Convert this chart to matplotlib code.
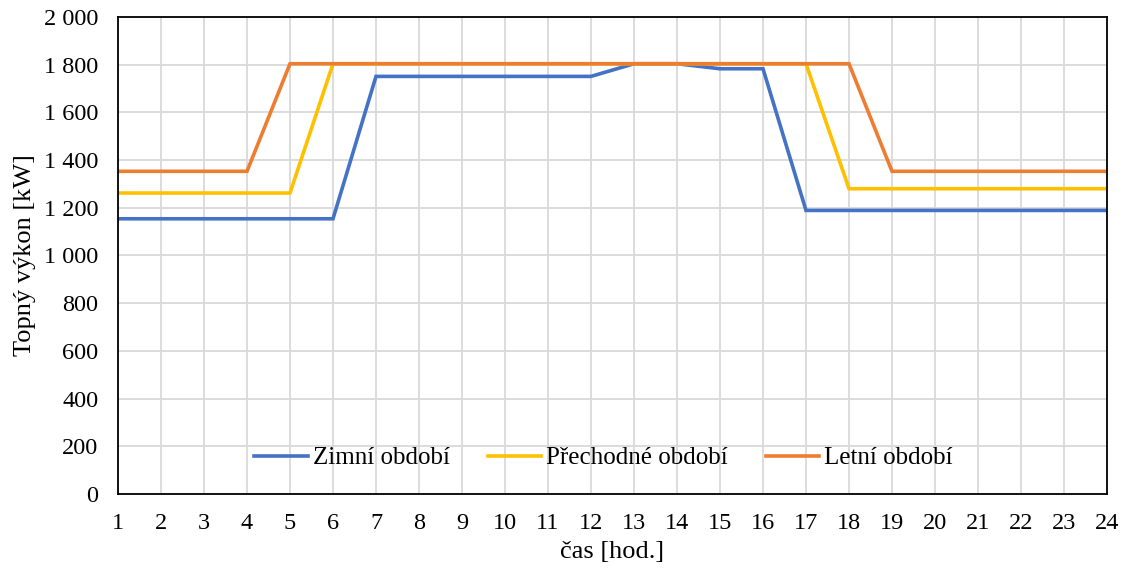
import matplotlib.pyplot as plt
from matplotlib.ticker import FuncFormatter, MultipleLocator

hours = list(range(1, 25))
zimni = [1154] * 6 + [1751] * 6 + [1804, 1804, 1783, 1783] + [1189] * 8
prechodne = [1262] * 5 + [1804] * 12 + [1280] * 7
letni = [1353] * 4 + [1804] * 14 + [1353] * 6

series = [
    ("Zimní období", zimni, "#4472C4"),
    ("Přechodné období", prechodne, "#FFC000"),
    ("Letní období", letni, "#ED7D31"),
]

plt.rcParams["font.family"] = ["Liberation Serif", "DejaVu Serif"]

fig = plt.figure(figsize=(11.24, 5.68), dpi=100)
ax = fig.add_axes([118 / 1124, 1 - 494 / 568, (1107 - 118) / 1124, (494 - 17) / 568])

for name, vals, col in series:
    ax.plot(hours, vals, color=col, lw=2.6, label=name, solid_joinstyle="miter")

ax.set_xlim(1, 24)
ax.set_ylim(0, 2000)
ax.xaxis.set_major_locator(MultipleLocator(1))
ax.yaxis.set_major_locator(MultipleLocator(200))
ax.yaxis.set_major_formatter(FuncFormatter(lambda v, p: f"{int(v):,}".replace(",", " ")))
ax.grid(True, color="#d9d9d9", lw=1.3)
ax.set_axisbelow(True)
for s in ax.spines.values():
    s.set_color("black")
    s.set_linewidth(1.3)
ax.tick_params(length=0, labelsize=17.5)
ax.tick_params(axis="y", pad=14)
ax.tick_params(axis="x", pad=14)

ax.set_xlabel("čas [hod.]", fontsize=19, labelpad=5)
ax.set_ylabel("Topný výkon [kW]", fontsize=19, labelpad=6)

ax.legend(loc="center", bbox_to_anchor=(0.491, (494 - 458) / 477), ncol=3, frameon=False,
          fontsize=18, handlelength=2.15, columnspacing=1.5, handletextpad=0.2)

fig.savefig("out.png", dpi=100)
